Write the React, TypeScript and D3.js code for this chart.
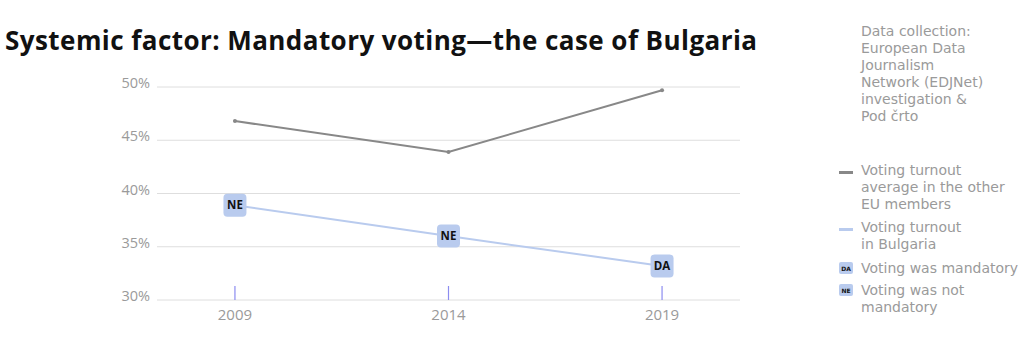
import React from "react";
import * as d3 from "d3";

const years = ["2009", "2014", "2019"];
const euAverage = [46.8, 43.9, 49.7];
const bulgaria = [38.9, 36.0, 33.2];
const mandatoryLabels = ["NE", "NE", "DA"];
const yTicks = [30, 35, 40, 45, 50];
const titleText = "Systemic factor: Mandatory voting—the case of Bulgaria";
const sourceLines = [
  "Data collection:",
  "European Data",
  "Journalism",
  "Network (EDJNet)",
  "investigation &",
  "Pod črto",
];

const W = 1024;
const H = 356;
const FONT = "'Open Sans', 'DejaVu Sans', sans-serif";
const SIDE_FONT = "'DejaVu Sans', sans-serif";
const GRAY = "#888888";
const BLUE = "#b9cbee";
const LABEL_GRAY = "#9a9a9a";
const LEG = 14;

export default function App() {
  const x = d3.scalePoint<string>().domain(years).range([157, 740]).padding(0.365);
  const y = d3.scaleLinear().domain([30, 50]).range([300, 87]);

  const lineGen = d3
    .line<number>()
    .x((_, i) => x(years[i]) as number)
    .y((d) => y(d));

  return (
    <svg
      width={W}
      height={H}
      style={{ position: "absolute", left: 0, top: 0, background: "#fff" }}
      fontFamily={FONT}
    >
      <text
        x={5}
        y={50}
        fontSize={26}
        fontWeight={700}
        fill="#111"
        textLength={752}
        lengthAdjust="spacing"
      >
        {titleText}
      </text>

      {yTicks.map((t) => (
        <g key={t}>
          <line x1={157} x2={740} y1={y(t)} y2={y(t)} stroke="#dedede" strokeWidth={1} />
          <text x={150} y={y(t) + 1} textAnchor="end" fontSize={14.5} fill={LABEL_GRAY}>
            {t}%
          </text>
        </g>
      ))}

      {years.map((yr) => (
        <g key={yr}>
          <line
            x1={x(yr)}
            x2={x(yr)}
            y1={y(30) - 14}
            y2={y(30)}
            stroke="#8c8cf0"
            strokeWidth={1.2}
          />
          <text x={x(yr)} y={y(30) + 20} textAnchor="middle" fontSize={15} fill={LABEL_GRAY}>
            {yr}
          </text>
        </g>
      ))}

      <path d={lineGen(euAverage) || ""} fill="none" stroke={GRAY} strokeWidth={2} />
      {euAverage.map((v, i) => (
        <circle key={i} cx={x(years[i])} cy={y(v)} r={2} fill={GRAY} />
      ))}

      <path d={lineGen(bulgaria) || ""} fill="none" stroke={BLUE} strokeWidth={2} />
      {bulgaria.map((v, i) => (
        <g key={i}>
          <rect
            x={(x(years[i]) as number) - 11.5}
            y={y(v) - 11.5}
            width={23}
            height={23}
            rx={4}
            fill={BLUE}
          />
          <text
            x={x(years[i])}
            y={y(v) + 4}
            textAnchor="middle"
            fontSize={11.5}
            fontWeight={700}
            fill="#111"
          >
            {mandatoryLabels[i]}
          </text>
        </g>
      ))}

      <g fontFamily={SIDE_FONT}>
        {sourceLines.map((l, i) => (
          <text key={i} x={861} y={36 + i * 17} fontSize={LEG} fill={LABEL_GRAY}>
            {l}
          </text>
        ))}

        <rect x={839} y={171} width={14} height={3} fill={GRAY} />
        {["Voting turnout", "average in the other", "EU members"].map((l, i) => (
          <text key={l} x={861} y={175 + i * 17} fontSize={LEG} fill={LABEL_GRAY}>
            {l}
          </text>
        ))}

        <rect x={839} y={228} width={14} height={3} fill={BLUE} />
        {["Voting turnout", "in Bulgaria"].map((l, i) => (
          <text key={l} x={861} y={232 + i * 17} fontSize={LEG} fill={LABEL_GRAY}>
            {l}
          </text>
        ))}

        <rect x={839} y={262} width={14} height={12} rx={2} fill={BLUE} />
        <text x={846} y={271} textAnchor="middle" fontSize={6} fontWeight={700} fill="#111">
          DA
        </text>
        <text x={861} y={273} fontSize={LEG} fill={LABEL_GRAY}>
          Voting was mandatory
        </text>

        <rect x={839} y={284} width={14} height={12} rx={2} fill={BLUE} />
        <text x={846} y={293} textAnchor="middle" fontSize={6} fontWeight={700} fill="#111">
          NE
        </text>
        {["Voting was not", "mandatory"].map((l, i) => (
          <text key={l} x={861} y={295 + i * 17} fontSize={LEG} fill={LABEL_GRAY}>
            {l}
          </text>
        ))}
      </g>
    </svg>
  );
}
